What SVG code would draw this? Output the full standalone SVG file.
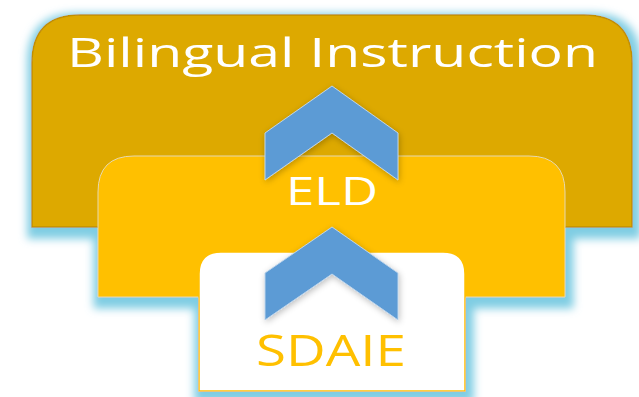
<svg xmlns="http://www.w3.org/2000/svg" width="639" height="397" viewBox="0 0 639 397">
<defs>
<filter id="glow" x="-10%" y="-10%" width="120%" height="125%">
<feMorphology in="SourceAlpha" operator="dilate" radius="6" result="d"/>
<feOffset in="d" dx="2" dy="5" result="o"/>
<feGaussianBlur in="o" stdDeviation="4" result="b"/>
<feFlood flood-color="#7fcde3"/>
<feComposite in2="b" operator="in" result="g"/>
<feMerge><feMergeNode in="g"/><feMergeNode in="SourceGraphic"/></feMerge>
</filter>
<filter id="sh" x="-20%" y="-20%" width="140%" height="140%">
<feGaussianBlur in="SourceAlpha" stdDeviation="3"/>
<feOffset dx="1" dy="2" result="b"/>
<feFlood flood-color="#000" flood-opacity="0.25"/>
<feComposite in2="b" operator="in" result="s"/>
<feMerge><feMergeNode in="s"/><feMergeNode in="SourceGraphic"/></feMerge>
</filter>
</defs>
<style>
.t{font-family:"Open Sans","Liberation Sans",sans-serif}
.chev{fill:#5b9bd5;stroke:#bcd3ea;stroke-width:1}
</style>
<rect width="639" height="397" fill="#fff"/>
<g filter="url(#glow)">
<g id="bilingual">
<path d="M32,227 V63 Q32,15 80,15 H584 Q632,15 632,63 V227 Z" fill="#dda900" stroke="#c09000" stroke-width="1.5"/>
</g>
<g id="eld">
<path d="M98,297 V192 Q98,156 134,156 H529 Q565,156 565,192 V297 Z" fill="#ffc000" stroke="#e6d8b0" stroke-width="1"/>
</g>
<g id="sdaie">
<path d="M199,391 V274 Q199,252 221,252 H443 Q465,252 465,274 V391 Z" fill="#fff" stroke="#ffc000" stroke-width="1.5"/>
</g>
</g>
<g id="connectors" filter="url(#sh)">
<path class="chev" d="M265,180 V133 L332,86 L398,133 V180 L332,133 Z"/>
<path class="chev" d="M265,320 V273 L332,227 L398,273 V320 L332,274 Z"/>
</g>
<text class="t" x="67" y="67" font-size="41" fill="#fff" textLength="531" lengthAdjust="spacingAndGlyphs">Bilingual Instruction</text>
<text class="t" x="286" y="205" font-size="39" fill="#fff" textLength="92" lengthAdjust="spacingAndGlyphs">ELD</text>
<text class="t" x="256" y="366" font-size="43" fill="#ffc000" textLength="150" lengthAdjust="spacingAndGlyphs">SDAIE</text>
</svg>
